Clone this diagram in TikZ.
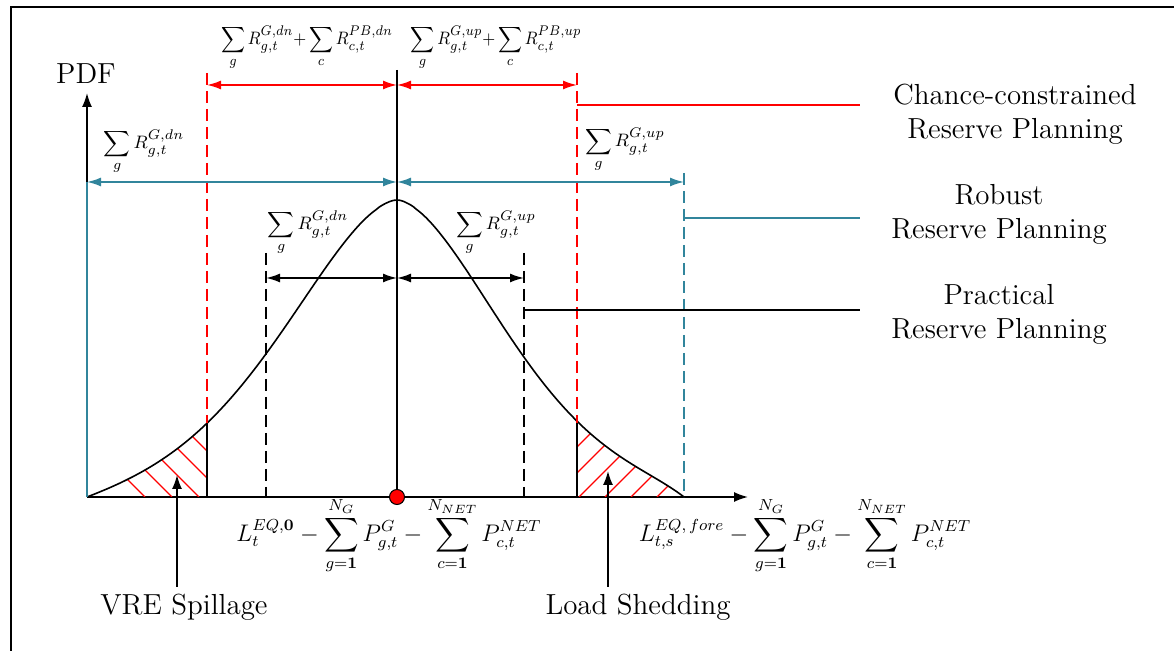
\documentclass[tikz,border=0pt]{standalone}
\usepackage{amsmath}
\usepackage{graphicx}
\usetikzlibrary{arrows.meta,positioning,calc}
\definecolor{ccred}{RGB}{255,0,0}
\definecolor{robteal}{RGB}{49,133,156}
% density: left and right halves around the mean at x=397
\newcommand{\pdfcurve}{plot[domain=-310:-0.01,samples=90] ({397+\x},{497-297*(exp(-pow(abs(\x)/158,1.7))-exp(-pow(310/158,1.7))*pow(abs(\x)/310,4))})
  -- plot[domain=0.01:287,samples=90] ({397+\x},{497-297*(exp(-pow(\x/150,1.7))-exp(-pow(287/150,1.7))*pow(\x/287,10))})}

\begin{document}
\begin{tikzpicture}[x=0.5pt,y=-0.5pt,font=\fontsize{14.5}{17}\selectfont,
    >={Latex[length=7pt,width=4.5pt]},
    dim/.style={<->,line width=0.8pt},
    bound/.style={dash pattern=on 6pt off 3pt,line width=0.8pt},
    sol/.style={line width=0.8pt},
    lbl/.style={inner sep=0pt,align=center},
    mlbl/.style={inner sep=0pt,font=\fontsize{9.5}{11}\selectfont},
    xlbl/.style={inner sep=0pt,font=\fontsize{12}{14}\selectfont},
    hatchline/.style={ccred,line width=0.7pt}]
  \useasboundingbox (0,0) rectangle (1174,651);
  \draw[line width=0.6pt] (11,651) -- (11,7) -- (1174,7);

  % axes
  \coordinate (o) at (87,497);
  \coordinate (mu) at (397,497);
  \coordinate (xend) at (748,497);
  \coordinate (yend) at (87,93);
  \draw[sol,-{Latex[length=7pt,width=5pt]}] (o) -- (xend);
  \draw[sol,-{Latex[length=7pt,width=5pt]}] (o) -- (yend);
  \node (pdf) at (86,74) {PDF};

  % hatched tails
  \begin{scope}
    \clip (87,380) rectangle (207,497);
    \clip \pdfcurve -- cycle;
    \foreach \b in {145,172,199,226,253}
      \draw[hatchline] (\b,497) -- ++(-130,-130);
  \end{scope}
  \begin{scope}
    \clip (577,380) rectangle (684,497);
    \clip \pdfcurve -- cycle;
    \foreach \b in {527,553,579,605,631,657}
      \draw[hatchline] (\b,497) -- ++(130,-130);
  \end{scope}

  % density
  \draw[sol] \pdfcurve;

  % chance-constrained bounds
  \draw[ccred,bound] (207,73) -- (207,423);
  \draw[ccred,bound] (577,73) -- (577,423);
  \draw[sol] (207,423) -- (207,497);
  \draw[sol] (577,423) -- (577,497);
  \draw[ccred,dim] (207,85) -- (397,85);
  \draw[ccred,dim] (397,85) -- (577,85);
  \draw[ccred,sol] (577,105) -- (860,105);

  % robust bounds
  \draw[robteal,sol] (87,182) -- (o);
  \draw[robteal,bound] (684,173) -- (684,497);
  \draw[robteal,dim] (87,182) -- (397,182);
  \draw[robteal,dim] (397,182) -- (684,182);
  \draw[robteal,sol] (684,218) -- (860,218);

  % practical bounds
  \draw[bound] (266,253) -- (266,497);
  \draw[bound] (524,253) -- (524,497);
  \draw[dim] (266,278) -- (397,278);
  \draw[dim] (397,278) -- (524,278);
  \draw[sol] (524,310) -- (860,310);

  % mean
  \draw[sol] (397,70) -- (mu);
  \node[circle,fill=ccred,draw=black,line width=0.5pt,minimum size=7.5pt,inner sep=0pt] (dot) at (mu) {};

  % reserve labels
  \node[mlbl] (ccdn) at (307,48) {\scalebox{0.9}[1]{$\displaystyle\sum_g R^{G,dn}_{g,t}{+}\sum_c R^{PB,dn}_{c,t}$}};
  \node[mlbl] (ccup) at (496,48) {\scalebox{0.9}[1]{$\displaystyle\sum_g R^{G,up}_{g,t}{+}\sum_c R^{PB,up}_{c,t}$}};
  \node[mlbl] (robdn) at (144,152) {$\displaystyle\sum_g R^{G,dn}_{g,t}$};
  \node[mlbl] (robup) at (625,150) {$\displaystyle\sum_g R^{G,up}_{g,t}$};
  \node[mlbl] (prdn) at (308,233) {$\displaystyle\sum_g R^{G,dn}_{g,t}$};
  \node[mlbl] (prup) at (496,233) {$\displaystyle\sum_g R^{G,up}_{g,t}$};

  % x-axis labels
  \node[xlbl] (lzero) at (389,536) {$\displaystyle L^{EQ,\mathbf{0}}_t-\sum_{g=\mathbf{1}}^{N_G}P^G_{g,t}-\sum_{c=\mathbf{1}}^{N_{NET}}P^{NET}_{c,t}$};
  \node[xlbl] (lfore) at (805,536) {$\displaystyle L^{EQ,\,fore}_{t,s}-\sum_{g=\mathbf{1}}^{N_G}P^G_{g,t}-\sum_{c=\mathbf{1}}^{N_{NET}}P^{NET}_{c,t}$};

  % legend
  \node[lbl] (cc) at (1015,114) {Chance-constrained\\Reserve Planning};
  \node[lbl] (rob) at (999,214) {Robust\\Reserve Planning};
  \node[lbl] (prac) at (999,314) {Practical\\Reserve Planning};

  % tails
  \node (vre) at (184,607) {VRE Spillage};
  \node (shed) at (638,607) {Load Shedding};
  \coordinate (spill) at (177,475);
  \coordinate (loss) at (608,471);
  \draw[sol,-{Latex[length=7pt,width=5pt]}] (spill |- vre.north) -- (spill);
  \draw[sol,-{Latex[length=7pt,width=5pt]}] (loss |- shed.north) -- (loss);
\end{tikzpicture}
\end{document}
